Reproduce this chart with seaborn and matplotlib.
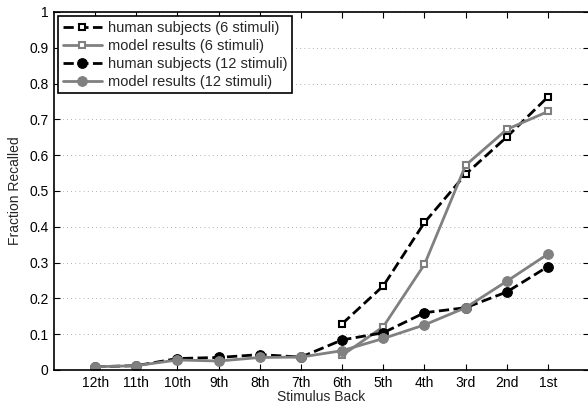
import numpy as np
import pandas as pd
import matplotlib
matplotlib.use("Agg")
import matplotlib.pyplot as plt
import seaborn as sns

# --- data ---
positions = ["12th", "11th", "10th", "9th", "8th", "7th",
             "6th", "5th", "4th", "3rd", "2nd", "1st"]

human_6 = [0.129, 0.235, 0.412, 0.547, 0.651, 0.763]   # 6th .. 1st
model_6 = [0.041, 0.121, 0.295, 0.572, 0.672, 0.722]   # 6th .. 1st
human_12 = [0.009, 0.012, 0.032, 0.035, 0.043, 0.036,
            0.084, 0.104, 0.160, 0.174, 0.218, 0.289]
model_12 = [0.009, 0.012, 0.028, 0.025, 0.035, 0.036,
            0.054, 0.088, 0.126, 0.174, 0.248, 0.324]

x_all = np.arange(1, len(positions) + 1)
x_6 = x_all[-len(human_6):]

sns.set_theme(style="ticks")
plt.rcParams["font.family"] = ["Liberation Sans", "DejaVu Sans"]

fig = plt.figure(figsize=(5.88, 4.04), dpi=100)
ax = fig.add_axes([0.0918, 0.0842, 0.9102, 0.8862])

gray = "#808080"
series = [
    (x_6, human_6, "human subjects (6 stimuli)",
     dict(color="black", linestyle="--", dashes=(3.5, 2.2), marker="s",
          markersize=5, markerfacecolor="white", markeredgecolor="black",
          markeredgewidth=1.5)),
    (x_6, model_6, "model results (6 stimuli)",
     dict(color=gray, linestyle="-", marker="s", markersize=5,
          markerfacecolor="white", markeredgecolor=gray, markeredgewidth=1.5)),
    (x_all, human_12, "human subjects (12 stimuli)",
     dict(color="black", linestyle="--", dashes=(3.5, 2.2), marker="o",
          markersize=7, markerfacecolor="black", markeredgecolor="black")),
    (x_all, model_12, "model results (12 stimuli)",
     dict(color=gray, linestyle="-", marker="o", markersize=7,
          markerfacecolor=gray, markeredgecolor=gray)),
]

for xs, ys, label, style in series:
    df = pd.DataFrame({"x": xs, "y": ys})
    sns.lineplot(data=df, x="x", y="y", ax=ax, label=label, linewidth=2,
                 **style)

ax.set_xlim(0, 13)
ax.set_ylim(0, 1)
ax.set_xticks(x_all)
ax.set_xticklabels(positions)
ax.set_yticks(np.arange(0, 1.01, 0.1))
ax.set_yticklabels(["0"] + [f"{v:.1f}" for v in np.arange(0.1, 0.95, 0.1)] + ["1"])
ax.set_xlabel("Stimulus Back", fontsize=10, labelpad=0)
ax.set_ylabel("Fraction Recalled", fontsize=10, labelpad=5)

ax.tick_params(direction="in", length=4, width=0.8, labelsize=10,
               top=True, right=True, colors="black", pad=4)
for s in ax.spines.values():
    s.set_color("black")
    s.set_linewidth(1.2)

ax.yaxis.grid(True, linestyle=(0, (1, 4)), color="#999999", linewidth=0.6)
ax.xaxis.grid(False)
ax.set_axisbelow(True)

leg = ax.legend(loc="upper left", fontsize=10.5, frameon=True, fancybox=False,
                handlelength=2.7, borderaxespad=0.3, labelspacing=0.28,
                handletextpad=0.4, borderpad=0.3)
leg.get_frame().set_edgecolor("black")
leg.get_frame().set_linewidth(1.2)
leg.get_frame().set_alpha(1)

fig.savefig("out.png", dpi=100)
